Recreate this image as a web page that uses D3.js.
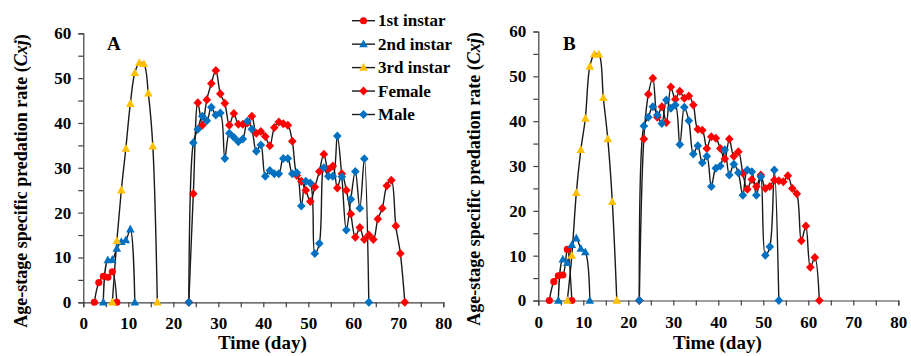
<!DOCTYPE html>
<html>
<head>
<meta charset="utf-8">
<script src="https://cdn.jsdelivr.net/npm/d3@7/dist/d3.min.js"></script>
<style>
  html, body { margin: 0; padding: 0; background: #fff; }
  svg { display: block; }
  text { font-family: "Liberation Serif", "Times New Roman", serif; font-weight: bold; fill: #000; }
</style>
</head>
<body>
<svg id="chart" width="911" height="356"></svg>
<script>
// ---------- DATA ----------
const seriesNames = ["1st instar", "2nd instar", "3rd instar", "Female", "Male"];
const xTickLabels = [0, 10, 20, 30, 40, 50, 60, 70, 80];
const yTickLabels = [0, 10, 20, 30, 40, 50, 60];

// Panel A (values per consecutive day, starting at the given day)
const A_inst1Start = 2;
const A_inst1 = [0, 4.4, 5.8, 5.6, 6.8, 0];
const A_inst2Start = 4;
const A_inst2 = [0, 9.4, 9.5, 12.0, 13.5, 13.9, 16.3, 0];
const A_inst3Start = 6;
const A_inst3 = [0, 13.7, 25.0, 34.3, 44.3, 51.2, 53.4, 53.2, 46.6, 34.8, 0];
const A_femaleStart = 23;
const A_female = [0, 24.2, 44.5, 39.5, 45.2, 48.8, 51.7, 46.5, 44.4, 39.5, 42.1, 39.7, 39.7, 40.0, 41.5,
  37.7, 38.1, 37.0, 34.9, 39.0, 40.2, 39.8, 39.5, 35.9, 28.3, 27.0, 25.0, 22.5, 25.7, 29.2, 33.0, 29.6,
  30.4, 25.5, 28.7, 25.0, 19.7, 14.5, 16.7, 14.0, 15.0, 14.0, 18.6, 21.0, 26.0, 27.2, 17.0, 10.9, 0];
const A_maleStart = 23;
const A_male = [0, 35.6, 38.6, 41.5, 40.5, 43.5, 41.8, 42.2, 32.1, 37.7, 36.8, 35.8, 36.4, 40.4, 38.6,
  33.7, 35.1, 28.1, 29.4, 28.7, 28.7, 32.1, 32.1, 28.7, 28.9, 21.5, 27.0, 26.6, 10.9, 13.1, 30.0, 28.1,
  28.1, 37.1, 28.0, 16.1, 23.0, 29.2, 21.0, 32.0, 0];

// Panel B
const B_inst1Start = 2;
const B_inst1 = [0, 4.2, 5.5, 5.7, 11.4, 0];
const B_inst2Start = 4;
const B_inst2 = [0, 9.2, 8.4, 12.4, 13.9, 11.6, 10.8, 0];
const B_inst3Start = 6;
const B_inst3 = [0, 10.0, 24.0, 33.6, 40.6, 52.2, 54.9, 54.9, 45.2, 36.0, 22.0, 0];
const B_femaleStart = 22;
const B_female = [0, 36.0, 46.0, 49.6, 40.9, 43.2, 39.7, 47.6, 44.9, 46.7, 45.1, 45.6, 43.6, 38.2, 38.0,
  33.9, 36.5, 36.2, 33.9, 31.6, 36.0, 32.2, 33.2, 28.4, 24.8, 27.0, 25.4, 28.0, 25.0, 25.4, 26.9, 26.7,
  26.5, 27.8, 25.0, 23.8, 13.3, 16.6, 7.4, 9.6, 0];
const B_maleStart = 22;
const B_male = [0, 38.9, 40.9, 43.2, 41.4, 39.5, 44.7, 42.9, 43.6, 34.8, 43.1, 40.1, 32.7, 34.5, 30.7,
  32.2, 25.4, 29.5, 30.0, 33.6, 28.0, 30.4, 28.5, 23.5, 29.1, 28.7, 23.5, 27.6, 10.1, 12.0, 29.1, 0];

// ---------- STYLE ----------
const COLORS = { red: "#FF0000", blue: "#0070C0", yellow: "#FFC000" };
const seriesStyle = [
  { color: COLORS.red, shape: "circle" },
  { color: COLORS.blue, shape: "triangle" },
  { color: COLORS.yellow, shape: "triangle" },
  { color: COLORS.red, shape: "diamond" },
  { color: COLORS.blue, shape: "diamond" }
];
const POINT_SHIFT = 0.45; // points sit slightly right of the integer tick in the original

const svg = d3.select("#chart");

function markerPath(shape) {
  if (shape === "circle") return d3.symbol(d3.symbolCircle, 40)();
  if (shape === "triangle") return "M0,-4.6L4.3,3.2L-4.3,3.2Z";
  return "M0,-4.5L4.3,0L0,4.5L-4.3,0Z";
}

function toPoints(start, vals) {
  return vals.map((v, i) => ({ day: start + i, value: v }));
}

function drawPanel(cfg) {
  const x = d3.scaleLinear().domain([0, 80]).range([cfg.x0, cfg.x1]);
  const y = d3.scaleLinear().domain([0, 60]).range([cfg.y0, cfg.y1]);
  const g = svg.append("g");

  // axes
  const xAxis = d3.axisBottom(x).tickValues(d3.range(0, 81, 5)).tickSize(5)
    .tickFormat(d => (xTickLabels.includes(d) ? d : ""));
  const gx = g.append("g").attr("transform", `translate(0,${cfg.y0})`).call(xAxis);
  const yAxis = d3.axisLeft(y).tickValues(d3.range(0, 61, 5)).tickSize(5)
    .tickFormat(d => (yTickLabels.includes(d) ? d : ""));
  const gy = g.append("g").attr("transform", `translate(${cfg.x0},0)`).call(yAxis);
  [gx, gy].forEach(a => {
    a.select(".domain").attr("stroke", "#404040").attr("stroke-width", 1.2);
    a.selectAll(".tick line").attr("stroke", "#404040").attr("stroke-width", 1.2);
    a.selectAll(".tick text").style("font-family", '"Liberation Serif", serif')
      .style("font-weight", "bold").style("font-size", "17px").attr("fill", "#000");
  });
  gx.selectAll(".tick text").attr("dy", "0.71em").attr("y", 15);
  gy.selectAll(".tick text").attr("x", -12);

  const series = cfg.series.map((s, i) => ({ pts: toPoints(s.start, s.vals), style: seriesStyle[i] }));

  const line = d3.line()
    .x(d => x(d.day + POINT_SHIFT))
    .y(d => y(d.value))
    .curve(d3.curveCatmullRom.alpha(0.5));

  // lines first
  series.forEach(s => {
    g.append("path").datum(s.pts).attr("d", line)
      .attr("fill", "none").attr("stroke", "#1a1a1a").attr("stroke-width", 1.4);
  });
  // markers
  series.forEach(s => {
    g.append("g").selectAll("path").data(s.pts).join("path")
      .attr("d", markerPath(s.style.shape))
      .attr("transform", d => `translate(${x(d.day + POINT_SHIFT)},${y(d.value)})`)
      .attr("fill", s.style.color);
  });

  // panel letter
  g.append("text").attr("x", cfg.letterX).attr("y", 50).style("font-size", "19px").text(cfg.letter);

  // axis titles
  g.append("text").attr("x", (cfg.x0 + cfg.x1) / 2 - 1).attr("y", 349).attr("text-anchor", "middle")
    .style("font-size", "19px").text("Time (day)");
  const yt = g.append("text").attr("transform", `translate(${cfg.titleX},${cfg.titleY}) rotate(-90)`)
    .attr("text-anchor", "middle").style("font-size", "18px");
  yt.append("tspan").text("Age-stage specific predation rate (");
  yt.append("tspan").style("font-style", "italic").text("Cxj");
  yt.append("tspan").text(")");
  return { x, y };
}

drawPanel({
  x0: 83.3, x1: 443.3, y0: 302.3, y1: 33.3, letter: "A", letterX: 107, titleX: 27, titleY: 181,
  series: [
    { start: A_inst1Start, vals: A_inst1 }, { start: A_inst2Start, vals: A_inst2 },
    { start: A_inst3Start, vals: A_inst3 }, { start: A_femaleStart, vals: A_female },
    { start: A_maleStart, vals: A_male }
  ]
});
drawPanel({
  x0: 538.3, x1: 898.3, y0: 300.5, y1: 31.5, letter: "B", letterX: 563, titleX: 480, titleY: 179,
  series: [
    { start: B_inst1Start, vals: B_inst1 }, { start: B_inst2Start, vals: B_inst2 },
    { start: B_inst3Start, vals: B_inst3 }, { start: B_femaleStart, vals: B_female },
    { start: B_maleStart, vals: B_male }
  ]
});

// legend (panel A)
const legend = svg.append("g");
const rowY = d3.scaleLinear().domain([0, 4]).range([20.7, 114.5]);
seriesNames.forEach((name, i) => {
  const yy = rowY(i);
  legend.append("line").attr("x1", 352).attr("x2", 375).attr("y1", yy).attr("y2", yy)
    .attr("stroke", "#1a1a1a").attr("stroke-width", 1.4);
  legend.append("path").attr("d", markerPath(seriesStyle[i].shape))
    .attr("transform", `translate(363.5,${yy})`).attr("fill", seriesStyle[i].color);
  legend.append("text").attr("x", 378).attr("y", yy).attr("dy", "0.34em")
    .style("font-size", "17px").text(name);
});
</script>
</body>
</html>
